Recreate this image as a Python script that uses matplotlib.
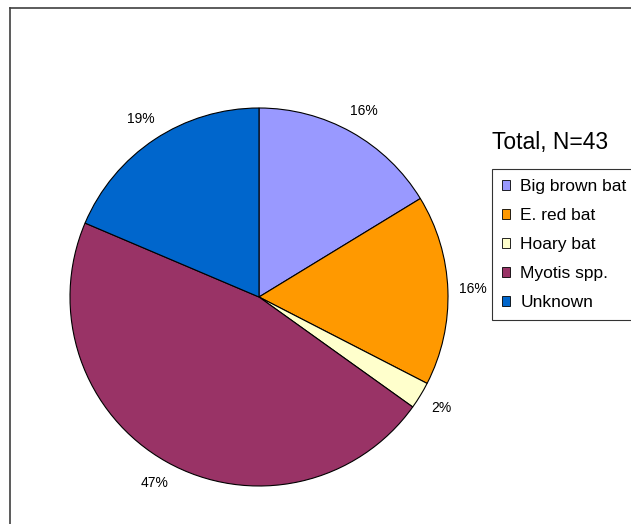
import matplotlib.pyplot as plt
from matplotlib.lines import Line2D
from matplotlib.patches import Patch

plt.rcParams['font.family'] = ['Liberation Sans', 'DejaVu Sans']

# bat counts, N=43
species = ['Big brown bat', 'E. red bat', 'Hoary bat', 'Myotis spp.', 'Unknown']
counts = [7, 7, 1, 20, 8]
colors = ['#9999FF', '#FF9900', '#FFFFCC', '#993366', '#0066CC']

W, H = 631, 524
fig = plt.figure(figsize=(W / 100, H / 100), dpi=100)

# pie centre (259, 297) px, radius 189 px
cx, cy, r = 259, 297, 189
ax = fig.add_axes([(cx - r) / W, (H - cy - r) / H, 2 * r / W, 2 * r / H])
wedges, texts, autotexts = ax.pie(
    counts, colors=colors, startangle=90, counterclock=False,
    autopct='%1.0f%%', pctdistance=1.13,
    wedgeprops=dict(edgecolor='black', linewidth=0.8),
    textprops=dict(fontsize=10))
ax.set_xlim(-1, 1)
ax.set_ylim(-1, 1)
ax.set_aspect('equal')

# outer frame (only left and top edges visible)
fig.add_artist(Line2D([10 / W, 10 / W], [0, 1 - 8 / H], color='#404040', lw=1.2))
fig.add_artist(Line2D([10 / W, 1], [1 - 8 / H, 1 - 8 / H], color='#404040', lw=1.2))

fig.text(492 / W, 1 - 142 / H, 'Total, N=43', fontsize=16.5, va='center', ha='left')

handles = [Patch(facecolor=c, edgecolor='black', linewidth=0.6) for c in colors]
leg = fig.legend(handles, species, loc='upper left',
                 bbox_to_anchor=(492 / W, 1 - 169 / H), fontsize=12.5,
                 frameon=True, fancybox=False, edgecolor='black',
                 handlelength=0.45, handleheight=0.45, handletextpad=0.6,
                 labelspacing=0.81, borderpad=0.58, borderaxespad=0)
leg.get_frame().set_linewidth(0.8)

fig.savefig('out.png', dpi=100)
